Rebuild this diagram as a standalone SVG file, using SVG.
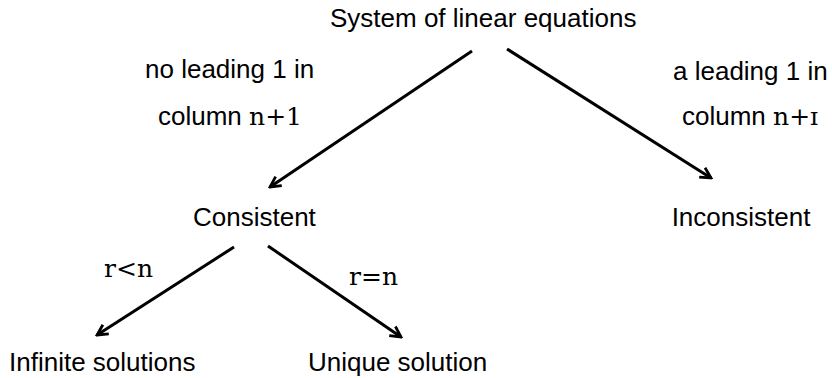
<svg xmlns="http://www.w3.org/2000/svg" width="832" height="378" viewBox="0 0 832 378">
<defs>
<marker id="ah" viewBox="0 0 14 14" refX="12" refY="7" markerWidth="14" markerHeight="14" markerUnits="userSpaceOnUse" orient="auto">
<path d="M1.5,1.5 L12,7 L1.5,12.5" fill="none" stroke="#000" stroke-width="2.8"/>
</marker>
</defs>
<style>
.s{font-family:"Liberation Sans",Arial,sans-serif;font-size:26px;fill:#000}
.m{font-family:"DejaVu Serif","Liberation Serif",serif;font-size:25px;fill:#000}
.c{stroke:#000;stroke-width:3;fill:none;marker-end:url(#ah)}
</style>
<rect width="832" height="378" fill="#fff"/>
<g id="connectors">
<line class="c" x1="472" y1="51" x2="270" y2="187"/>
<line class="c" x1="507" y1="49" x2="711" y2="178"/>
<line class="c" x1="234" y1="247" x2="97" y2="335"/>
<line class="c" x1="268" y1="246" x2="401" y2="337"/>
</g>
<g id="system"><text class="s" x="330" y="27">System of linear equations</text></g>
<g id="label-no-leading">
<text class="s" x="145" y="78">no leading 1 in</text>
<text x="158" y="125"><tspan class="s">column </tspan><tspan class="m">n+1</tspan></text>
</g>
<g id="label-leading">
<text class="s" x="673" y="80">a leading 1 in</text>
<text x="682" y="125"><tspan class="s">column </tspan><tspan class="m">n+ɪ</tspan></text>
</g>
<g id="consistent"><text class="s" x="193" y="226">Consistent</text></g>
<g id="inconsistent"><text class="s" x="741" y="226" text-anchor="middle">Inconsistent</text></g>
<g id="label-rltn"><text class="m" x="153" y="277" text-anchor="end">r&lt;n</text></g>
<g id="label-reqn"><text class="m" x="349" y="285">r=n</text></g>
<g id="infinite"><text class="s" x="9" y="371">Infinite solutions</text></g>
<g id="unique"><text class="s" x="308" y="371">Unique solution</text></g>
</svg>
